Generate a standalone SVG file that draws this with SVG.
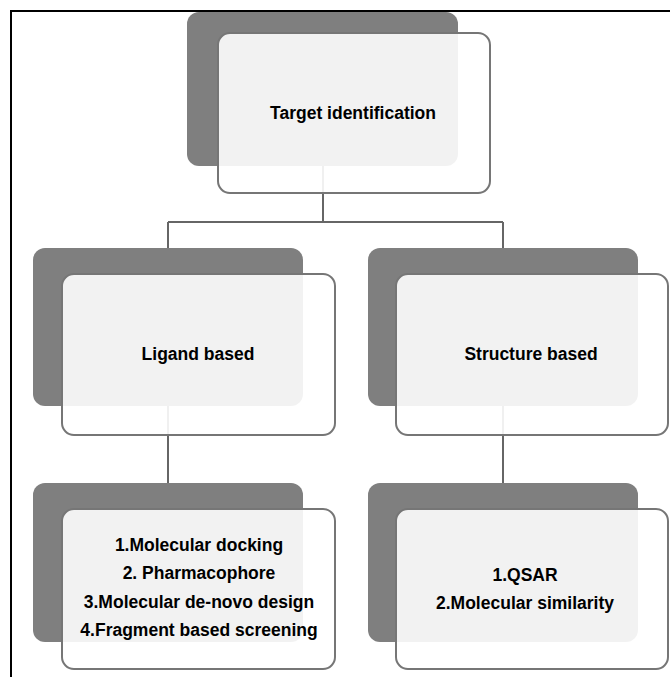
<svg xmlns="http://www.w3.org/2000/svg" width="670" height="677" viewBox="0 0 670 677">
  <style>
    .back { fill: #7f7f7f; }
    .front { fill: #ffffff; fill-opacity: 0.9; stroke: #767676; stroke-width: 2; }
    .link { fill: none; stroke: #666666; stroke-width: 2; }
    .label { font-family: "Liberation Sans", Arial, sans-serif; font-weight: bold; font-size: 17.5px; fill: #000000; text-anchor: middle; }
  </style>
  <rect x="0" y="0" width="670" height="677" fill="#ffffff"/>

  <!-- tree connectors (drawn beneath the translucent front cards) -->
  <g id="connectors">
    <path class="link" d="M323 166 V222 M168 222 H503 M168 222 V248 M503 222 V248"/>
    <path class="link" d="M168 406 V483 M503 406 V483"/>
  </g>

  <g id="target">
    <rect class="back" x="187" y="12" width="271" height="154" rx="12"/>
    <rect class="front" x="218" y="33" width="272" height="160" rx="12"/>
    <text class="label" x="353" y="119">Target identification</text>
  </g>

  <g id="ligand">
    <rect class="back" x="33" y="248" width="270" height="158" rx="12"/>
    <rect class="front" x="62" y="274" width="273" height="161" rx="12"/>
    <text class="label" x="198" y="360">Ligand based</text>
  </g>

  <g id="structure">
    <rect class="back" x="368" y="248" width="270" height="158" rx="12"/>
    <rect class="front" x="396" y="274" width="272" height="161" rx="12"/>
    <text class="label" x="531" y="360">Structure based</text>
  </g>

  <g id="ligand-methods">
    <rect class="back" x="33" y="483" width="270" height="159" rx="12"/>
    <rect class="front" x="62" y="509" width="273" height="160" rx="12"/>
    <text class="label" x="199" y="551">1.Molecular docking</text>
    <text class="label" x="199" y="579">2. Pharmacophore</text>
    <text class="label" x="199" y="608">3.Molecular de-novo design</text>
    <text class="label" x="199" y="636">4.Fragment based screening</text>
  </g>

  <g id="structure-methods">
    <rect class="back" x="368" y="483" width="270" height="159" rx="12"/>
    <rect class="front" x="396" y="509" width="272" height="160" rx="12"/>
    <text class="label" x="525" y="581">1.QSAR</text>
    <text class="label" x="525" y="609">2.Molecular similarity</text>
  </g>

  <!-- page frame: top and left rules -->
  <path d="M10 11 H670 M11 10 V677" fill="none" stroke="#000000" stroke-width="2"/>
</svg>
